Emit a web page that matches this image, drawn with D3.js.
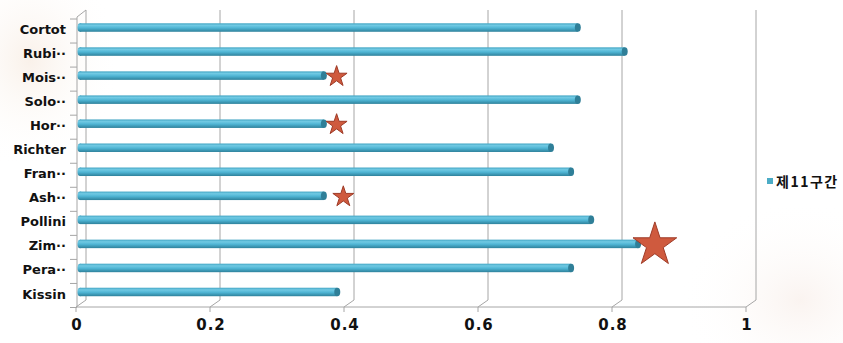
<!DOCTYPE html>
<html>
<head>
<meta charset="utf-8">
<script src="https://cdn.jsdelivr.net/npm/d3@7"></script>
<style>
  body { margin: 0; background: #fff; }
  svg { display: block; }
</style>
</head>
<body>
<svg id="chart" width="843" height="343"></svg>
<script>
// categories top to bottom
var pianists = ["Cortot", "Rubi\u00b7\u00b7", "Mois\u00b7\u00b7", "Solo\u00b7\u00b7", "Hor\u00b7\u00b7", "Richter",
                "Fran\u00b7\u00b7", "Ash\u00b7\u00b7", "Pollini", "Zim\u00b7\u00b7", "Pera\u00b7\u00b7", "Kissin"]
// 제11구간 values
var section11 = [0.743, 0.813, 0.364, 0.743, 0.364, 0.703, 0.733, 0.364, 0.763, 0.833, 0.733, 0.384]
var xTicks = [0, 0.2, 0.4, 0.6, 0.8, 1]
// star markers: category, x position (in value units), big or not
var starCats = ["Mois\u00b7\u00b7", "Hor\u00b7\u00b7", "Ash\u00b7\u00b7", "Zim\u00b7\u00b7"]
var starPos = [0.383, 0.383, 0.393, 0.858]
var starBig = [false, false, false, true]
var legendName = "제11구간"

var svg = d3.select("#chart")

// soft backdrop decoration in the corners
var defs = svg.append("defs")
var bg1 = defs.append("radialGradient").attr("id", "bg1")
bg1.append("stop").attr("offset", "0%").attr("stop-color", "#f7ebe0").attr("stop-opacity", 0.7)
bg1.append("stop").attr("offset", "100%").attr("stop-color", "#fff").attr("stop-opacity", 0)
var bg2 = defs.append("radialGradient").attr("id", "bg2")
bg2.append("stop").attr("offset", "0%").attr("stop-color", "#f7ece6").attr("stop-opacity", 0.6)
bg2.append("stop").attr("offset", "100%").attr("stop-color", "#fff").attr("stop-opacity", 0)
svg.append("ellipse").attr("cx", 30).attr("cy", 60).attr("rx", 90).attr("ry", 110).attr("fill", "url(#bg1)")
svg.append("ellipse").attr("cx", 800).attr("cy", 300).attr("rx", 120).attr("ry", 100).attr("fill", "url(#bg2)")

// bar gradient (cylinder look)
var cyl = defs.append("linearGradient").attr("id", "cyl")
  .attr("x1", 0).attr("y1", 0).attr("x2", 0).attr("y2", 1)
cyl.append("stop").attr("offset", "0%").attr("stop-color", "#44a6c4")
cyl.append("stop").attr("offset", "25%").attr("stop-color", "#70c9e3")
cyl.append("stop").attr("offset", "55%").attr("stop-color", "#4fb5d4")
cyl.append("stop").attr("offset", "100%").attr("stop-color", "#2e819b")

// front axis scale and depth offset of the back wall
var x = d3.scaleLinear().domain([0, 1]).range([76, 746])
var dx = 10, dy = -7
var frontBottom = 307, frontTop = 17
// bars sit half way into the depth
var xb = function(v) { return x(v) + dx / 2 - 1 }
var y = d3.scaleBand().domain(pianists).range([15.5, 304]).paddingInner(0).paddingOuter(0)

var grid = svg.append("g").attr("stroke", "#a6a6a6").attr("fill", "none").attr("stroke-width", 1)

// back wall gridlines
grid.selectAll(".gridV")
  .data(xTicks)
  .enter()
  .append("line")
  .attr("x1", function(d) { return x(d) + dx })
  .attr("x2", function(d) { return x(d) + dx })
  .attr("y1", frontTop + dy)
  .attr("y2", frontBottom + dy)
// floor diagonals
grid.selectAll(".diag")
  .data(xTicks)
  .enter()
  .append("line")
  .attr("x1", function(d) { return x(d) })
  .attr("y1", frontBottom)
  .attr("x2", function(d) { return x(d) + dx })
  .attr("y2", frontBottom + dy)
// floor front edge + ticks
grid.append("line").attr("x1", x(0)).attr("x2", x(1)).attr("y1", frontBottom).attr("y2", frontBottom)
grid.selectAll(".xtick")
  .data(xTicks)
  .enter()
  .append("line")
  .attr("x1", function(d) { return x(d) }).attr("x2", function(d) { return x(d) })
  .attr("y1", frontBottom).attr("y2", frontBottom + 5)
// left wall front edge + top diagonal
grid.append("line").attr("x1", x(0) + 1).attr("x2", x(0) + 1).attr("y1", frontTop).attr("y2", frontBottom)
grid.append("line").attr("x1", x(0) + 1).attr("y1", frontTop).attr("x2", x(0) + dx).attr("y2", frontTop + dy)
// category ticks on the left
var bounds = pianists.map(function(p) { return y(p) }).concat([y.range()[1]])
grid.selectAll(".ytick")
  .data(bounds)
  .enter()
  .append("line")
  .attr("x1", x(0) - 6).attr("x2", x(0) + 1)
  .attr("y1", function(d) { return d + 3.5 }).attr("y2", function(d) { return d + 3.5 })

// bars
var barH = 8.5
var bars = svg.append("g")
var rows = bars.selectAll(".bar")
  .data(section11)
  .enter()
  .append("g")
  .attr("class", "bar")
  .attr("transform", function(d, i) { return "translate(0," + (y(pianists[i]) + y.bandwidth() / 2) + ")" })
rows.append("rect")
  .attr("x", xb(0))
  .attr("y", -barH / 2)
  .attr("width", function(d) { return xb(d) - xb(0) })
  .attr("height", barH)
  .attr("fill", "url(#cyl)")
rows.append("ellipse")
  .attr("cx", xb(0))
  .attr("cy", 0)
  .attr("rx", 2.5)
  .attr("ry", barH / 2)
  .attr("fill", "url(#cyl)")
rows.append("ellipse")
  .attr("cx", function(d) { return xb(d) })
  .attr("cy", 0)
  .attr("rx", 3)
  .attr("ry", barH / 2)
  .attr("fill", "#2f7f98")

// stars
var star = d3.symbol().type(d3.symbolStar)
svg.selectAll(".star")
  .data(starPos)
  .enter()
  .append("path")
  .attr("class", "star")
  .attr("d", function(d, i) { return star.size(starBig[i] ? 23 * 23 / 0.8908 : 11 * 11 / 0.8908)() })
  .attr("transform", function(d, i) {
    var cy = y(starCats[i]) + y.bandwidth() / 2 + 1
    return "translate(" + xb(d) + "," + cy + ")"
  })
  .attr("fill", "#cf5a3e")
  .attr("stroke", "#9e3b27")
  .attr("stroke-width", 1)

// y labels
svg.selectAll(".ylab")
  .data(pianists)
  .enter()
  .append("text")
  .attr("x", 66)
  .attr("y", function(d) { return y(d) + y.bandwidth() / 2 + 2 })
  .attr("dy", "0.35em")
  .attr("text-anchor", "end")
  .attr("font-family", "DejaVu Sans, sans-serif")
  .attr("font-weight", "bold")
  .attr("font-size", 13)
  .attr("fill", "#111")
  .text(function(d) { return d })

// x labels
svg.selectAll(".xlab")
  .data(xTicks)
  .enter()
  .append("text")
  .attr("x", function(d) { return x(d) + 1 })
  .attr("y", 330)
  .attr("text-anchor", "middle")
  .attr("font-family", "DejaVu Sans, sans-serif")
  .attr("font-weight", "bold")
  .attr("font-size", 15)
  .attr("letter-spacing", 1)
  .attr("fill", "#111")
  .text(function(d) { return d })

// legend
svg.append("rect").attr("x", 767).attr("y", 178).attr("width", 6).attr("height", 6).attr("fill", "#4bacc6")
svg.append("text")
  .attr("x", 776)
  .attr("y", 187)
  .attr("font-family", "Noto Sans CJK KR, sans-serif")
  .attr("font-weight", "bold")
  .attr("font-size", 14)
  .attr("letter-spacing", 1.5)
  .attr("fill", "#111")
  .text(legendName)
</script>
</body>
</html>
